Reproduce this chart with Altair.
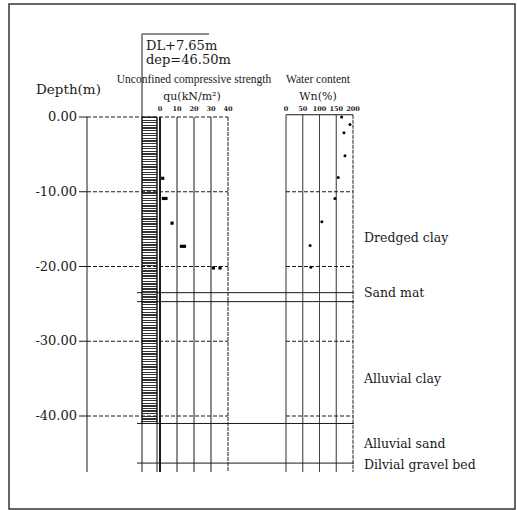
import altair as alt
import pandas as pd

# ---------------- data ----------------
depth_ticks = [0, -10, -20, -30, -40]
depth_labels = ["0.00", "-10.00", "-20.00", "-30.00", "-40.00"]
qu_ticks = [0, 10, 20, 30, 40]
wn_ticks = [0, 50, 100, 150, 200]
qu_depth = [-8.2, -10.9, -10.9, -14.2, -17.3, -17.3, -20.2, -20.2]
qu_value = [1.6, 2.0, 3.5, 7.1, 12.6, 14.4, 31.4, 35.3]
wn_depth = [0.0, -1.0, -2.1, -5.2, -8.1, -10.9, -14.0, -17.2, -20.1]
wn_value = [166, 191, 173, 176, 156, 146, 107, 72, 74]
boundary_depths = [-23.5, -24.7, -41.0, -46.3]
layer_names = ["Dredged clay", "Sand mat", "Alluvial clay", "Alluvial sand", "Dilvial gravel bed"]
layer_label_depths = [-16.2, -23.5, -35.0, -43.7, -46.6]
boring_bottom = -47.5
hatch_bottom = -41.0
box_top = 11.1
wn_top = 0.3

INK = "#1a1a1a"
SERIF = "DejaVu Serif"
NARROW = "Liberation Serif"


def Y(field):
    return alt.Y(field, type="quantitative",
                 scale=alt.Scale(domain=[0, -40], range=[117, 416], nice=False, zero=False),
                 axis=None)


def XQ(field):
    return alt.X(field, type="quantitative",
                 scale=alt.Scale(domain=[0, 40], range=[160, 228], nice=False, zero=False),
                 axis=None)


def XW(field):
    return alt.X(field, type="quantitative",
                 scale=alt.Scale(domain=[0, 200], range=[286, 353], nice=False, zero=False),
                 axis=None)


one = pd.DataFrame({"a": [0]})
ticks_df = pd.DataFrame({"d": depth_ticks, "lab": depth_labels})
qu_grid = pd.DataFrame({"v": qu_ticks, "top": 0, "bottom": boring_bottom})
wn_grid = pd.DataFrame({"v": wn_ticks, "top": wn_top, "bottom": boring_bottom})
qu_pts = pd.DataFrame({"v": qu_value, "d": qu_depth})
wn_pts = pd.DataFrame({"v": wn_value, "d": wn_depth})
bound_df = pd.DataFrame({"d": boundary_depths})
names_df = pd.DataFrame({"name": layer_names, "d": layer_label_depths})
wn_h = pd.DataFrame({"d": [wn_top] + depth_ticks[1:], "lo": 0, "hi": 200,
                     "dash": [0, 1, 1, 1, 1]})
col_df = pd.DataFrame({"top": [0], "bottom": [hatch_bottom]})
axis_line = pd.DataFrame({"top": [0], "bottom": [boring_bottom]})
left_edge = pd.DataFrame({"top": [box_top], "bottom": [boring_bottom]})

# hatch pattern as a striped gradient (style only)
N = 118
stops = []
for i in range(N):
    a, b, c = i / N, (i + 0.5) / N, (i + 1) / N
    stops += [alt.GradientStop(color="#333333", offset=round(a, 5)),
              alt.GradientStop(color="#333333", offset=round(b, 5)),
              alt.GradientStop(color="#ffffff", offset=round(b, 5)),
              alt.GradientStop(color="#ffffff", offset=round(c, 5))]
hatch = alt.LinearGradient(gradient="linear", stops=stops, x1=0, x2=0, y1=0, y2=1)

layers = []

# outer frame
layers.append(alt.Chart(one).mark_rect(fillOpacity=0, stroke="#333", strokeWidth=1.5).encode(
    x=alt.value(9), x2=alt.value(515), y=alt.value(4), y2=alt.value(509)))

# boring column
layers.append(alt.Chart(col_df).mark_rect(fill=hatch, stroke=INK, strokeWidth=1).encode(
    x=alt.value(142), x2=alt.value(157), y=Y("top"), y2="bottom"))
layers.append(alt.Chart(left_edge).mark_rule(color=INK, strokeWidth=1).encode(
    x=alt.value(142), y=Y("top"), y2="bottom"))
layers.append(alt.Chart(axis_line).mark_rule(color=INK, strokeWidth=1).encode(
    x=alt.value(157), y=Y("top"), y2="bottom"))
layers.append(alt.Chart(one).mark_rule(color=INK, strokeWidth=1).encode(
    x=alt.value(142), x2=alt.value(209), y=alt.value(34)))

# depth axis
layers.append(alt.Chart(axis_line).mark_rule(color=INK, strokeWidth=1).encode(
    x=alt.value(87), y=Y("top"), y2="bottom"))
layers.append(alt.Chart(ticks_df).mark_rule(color=INK, strokeWidth=1, strokeDash=[4, 2]).encode(
    x=alt.value(87), x2=alt.value(228), y=Y("d")))
layers.append(alt.Chart(ticks_df).mark_rule(color=INK, strokeWidth=1).encode(
    x=alt.value(79), x2=alt.value(87), y=Y("d")))
layers.append(alt.Chart(ticks_df).mark_text(font=SERIF, fontSize=13, align="right",
                                            baseline="middle", color=INK).encode(
    x=alt.value(77), y=Y("d"), text="lab"))

# qu panel
layers.append(alt.Chart(qu_grid).mark_rule(color=INK).encode(
    x=XQ("v"), y=Y("top"), y2="bottom",
    strokeWidth=alt.condition("datum.v == 0", alt.value(2), alt.value(1)),
    strokeDash=alt.condition("datum.v == 40", alt.value([4, 1]), alt.value([1, 0]))))
layers.append(alt.Chart(qu_grid).mark_text(font=SERIF, fontSize=6.5, fontWeight="bold",
                                           baseline="middle", color=INK).encode(
    x=XQ("v"), y=alt.value(109), text="v:Q"))
layers.append(alt.Chart(qu_pts).mark_square(size=10, color="black", opacity=1).encode(
    x=XQ("v"), y=Y("d")))

# Wn panel
layers.append(alt.Chart(wn_grid).mark_rule(color=INK, strokeWidth=1).encode(
    x=XW("v"), y=Y("top"), y2="bottom",
    strokeDash=alt.condition("datum.v == 200", alt.value([4, 1]), alt.value([1, 0]))))
layers.append(alt.Chart(wn_h).mark_rule(color=INK, strokeWidth=1).encode(
    x=XW("lo"), x2="hi", y=Y("d"),
    strokeDash=alt.condition("datum.dash == 1", alt.value([4, 2]), alt.value([1, 0]))))
layers.append(alt.Chart(wn_grid).mark_text(font=SERIF, fontSize=6.5, fontWeight="bold",
                                           baseline="middle", color=INK).encode(
    x=XW("v"), y=alt.value(109), text="v:Q"))
layers.append(alt.Chart(wn_pts).mark_circle(size=9, color="black", opacity=1).encode(
    x=XW("v"), y=Y("d")))

# layer boundaries and names
layers.append(alt.Chart(bound_df).mark_rule(color=INK, strokeWidth=1).encode(
    x=alt.value(137), x2=alt.value(354), y=Y("d")))
layers.append(alt.Chart(names_df).mark_text(font=SERIF, fontSize=12.5, align="left",
                                            baseline="middle", color=INK).encode(
    x=alt.value(364), y=Y("d"), text="name"))

# headers
def label(txt, x, y, size, font=SERIF, align="left"):
    return alt.Chart(one).mark_text(text=txt, font=font, fontSize=size, align=align,
                                    baseline="middle", color=INK).encode(
        x=alt.value(x), y=alt.value(y))

layers.append(label("DL+7.65m", 146, 46, 13))
layers.append(label("dep=46.50m", 146, 60, 13))
layers.append(label("Depth(m)", 36, 90, 13.5))
layers.append(label("Unconfined compressive strength", 194, 80, 11.5, NARROW, "center"))
layers.append(label("qu(kN/m²)", 192, 97, 11, SERIF, "center"))
layers.append(label("Water content", 318, 80, 11.5, NARROW, "center"))
layers.append(label("Wn(%)", 318, 97, 11, SERIF, "center"))

chart = alt.layer(*layers).resolve_scale(x="independent").properties(
    width=517, height=510, autosize=alt.AutoSizeParams(type="none"), padding=0
).configure_view(stroke=None)

chart.save("out.html", embed_options={"renderer": "svg", "actions": False})
